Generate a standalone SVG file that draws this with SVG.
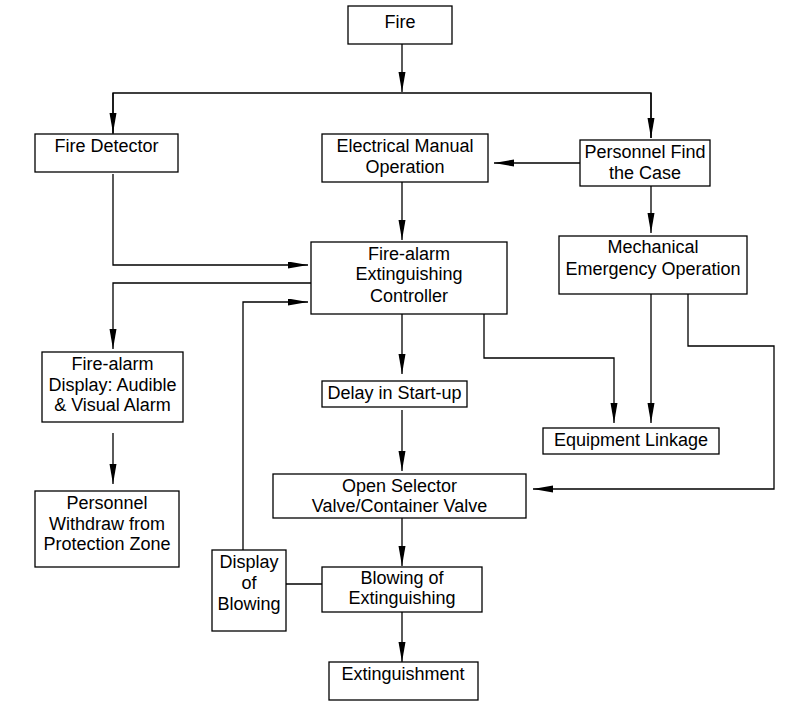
<svg xmlns="http://www.w3.org/2000/svg" width="795" height="719" viewBox="0 0 795 719">
<style>
.box{fill:#fff;stroke:#000;stroke-width:1.3}
text{font-family:"Liberation Sans",Arial,sans-serif;font-size:18px;fill:#000;text-anchor:middle}
.c{fill:none;stroke:#000;stroke-width:1.3}
</style>
<defs>
<marker id="ah" markerUnits="userSpaceOnUse" markerWidth="22" markerHeight="8" refX="20" refY="3.5" orient="auto">
<path d="M0,0 L20,3.5 L0,7 z" fill="#000"/>
</marker>
</defs>
<rect width="795" height="719" fill="#fff"/>
<g id="connectors">
<path class="c" d="M402,44 V92" marker-end="url(#ah)"/>
<path class="c" d="M113,134 V93 H651 V138"/>
<path class="c" d="M113,93 V133" marker-end="url(#ah)"/>
<path class="c" d="M651,93 V138" marker-end="url(#ah)"/>
<path class="c" d="M580,163 H494" marker-end="url(#ah)"/>
<path class="c" d="M651,186 V233" marker-end="url(#ah)"/>
<path class="c" d="M402,182 V240" marker-end="url(#ah)"/>
<path class="c" d="M113,174 V265 H308" marker-end="url(#ah)"/>
<path class="c" d="M311,283 H113 V349" marker-end="url(#ah)"/>
<path class="c" d="M243,550 V302 H308" marker-end="url(#ah)"/>
<path class="c" d="M113,433 V484" marker-end="url(#ah)"/>
<path class="c" d="M402,314 V374" marker-end="url(#ah)"/>
<path class="c" d="M402,410 V471" marker-end="url(#ah)"/>
<path class="c" d="M484,314 V358 H614 V423" marker-end="url(#ah)"/>
<path class="c" d="M651,294 V423" marker-end="url(#ah)"/>
<path class="c" d="M688,294 V346 H774 V489 H533" marker-end="url(#ah)"/>
<path class="c" d="M402,518 V566" marker-end="url(#ah)"/>
<path class="c" d="M286,584 H322"/>
<path class="c" d="M402,612 V662" marker-end="url(#ah)"/>
</g>
<g id="fire"><rect class="box" x="348" y="6" width="104" height="38"/><text x="400" y="27.5">Fire</text></g>
<g id="fire-detector"><rect class="box" x="35" y="134" width="143" height="38"/><text x="106.5" y="151.5">Fire Detector</text></g>
<g id="electrical-manual"><rect class="box" x="322" y="134" width="166" height="48"/><text x="405" y="151.5">Electrical Manual</text><text x="405" y="172.5">Operation</text></g>
<g id="personnel-find"><rect class="box" x="580" y="140" width="130" height="46"/><text x="645" y="157.5">Personnel Find</text><text x="645" y="178.5">the Case</text></g>
<g id="mechanical"><rect class="box" x="559" y="236" width="188" height="58"/><text x="653" y="252.5">Mechanical</text><text x="653" y="274.5">Emergency Operation</text></g>
<g id="controller"><rect class="box" x="311" y="242" width="196" height="72"/><text x="409" y="259.5">Fire-alarm</text><text x="409" y="280">Extinguishing</text><text x="409" y="301.5">Controller</text></g>
<g id="alarm-display"><rect class="box" x="42" y="352" width="141" height="70"/><text x="112.5" y="369.5">Fire-alarm</text><text x="112.5" y="390.5">Display: Audible</text><text x="112.5" y="410.5">&amp; Visual Alarm</text></g>
<g id="personnel-withdraw"><rect class="box" x="35" y="491" width="144" height="76"/><text x="107" y="508.5">Personnel</text><text x="107" y="529.5">Withdraw from</text><text x="107" y="549.5">Protection Zone</text></g>
<g id="delay"><rect class="box" x="322" y="381" width="145" height="26"/><text x="394.5" y="398.5">Delay in Start-up</text></g>
<g id="equipment-linkage"><rect class="box" x="543" y="428" width="176" height="26"/><text x="631" y="445.5">Equipment Linkage</text></g>
<g id="open-selector"><rect class="box" x="273" y="474" width="253" height="44"/><text x="399.5" y="491.5">Open Selector</text><text x="399.5" y="511.5">Valve/Container Valve</text></g>
<g id="display-blowing"><rect class="box" x="212" y="550" width="74" height="81"/><text x="249" y="567.5">Display</text><text x="249" y="588.5">of</text><text x="249" y="609.5">Blowing</text></g>
<g id="blowing"><rect class="box" x="322" y="567" width="160" height="45"/><text x="402" y="583.5">Blowing of</text><text x="402" y="603.5">Extinguishing</text></g>
<g id="extinguishment"><rect class="box" x="329" y="662" width="149" height="38"/><text x="403" y="679.5">Extinguishment</text></g>
</svg>
